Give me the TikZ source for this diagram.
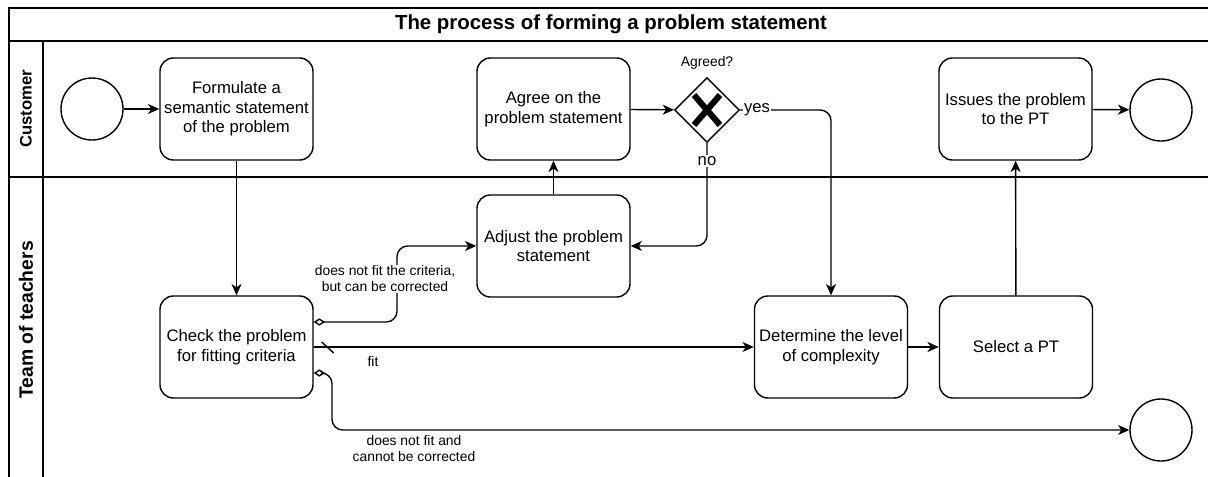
\documentclass[tikz,border=0pt]{standalone}
\usepackage{fontspec}
\setmainfont{Liberation Sans}
\usetikzlibrary{arrows.meta,shapes.geometric}

\begin{document}
\begin{tikzpicture}[x=0.75pt,y=-0.75pt,
  line width=1.05pt,
  task/.style={draw, rounded corners=10pt, minimum width=114.75pt,
    minimum height=76.5pt, inner sep=0pt, align=center,
    font=\fontsize{12.5}{14.6}\selectfont},
  event/.style={draw, circle, minimum size=46.5pt, inner sep=0pt},
  gateway/.style={draw, diamond, minimum width=48.75pt, minimum height=48.75pt, inner sep=0pt},
  flow/.style={-{Stealth[length=8.5pt,width=7.5pt,inset=2.5pt]}, rounded corners=8pt},
  cond/.style={{Diamond[open,length=8.5pt,width=5.5pt]}-{Stealth[length=8.5pt,width=7.5pt,inset=2.5pt]}, rounded corners=8pt},
  edgelabel/.style={fill=white, inner sep=1pt, align=center,
    font=\fontsize{10.4}{12}\selectfont},
  lanelabel/.style={rotate=90, font=\bfseries\fontsize{12.5}{14}\selectfont},
]
\clip (0,0) rectangle (1208,476);

% pool frame, title band and lanes
\draw (9,8) rectangle (1230,500);
\draw[line width=2.2pt] (9,41) -- (1230,41);
\draw (9,177) -- (1230,177);
\draw (43,41) -- (43,500);
\node[font=\bfseries\fontsize{15.3}{18}\selectfont] (title) at (611,24.5) {The process of forming a problem statement};
\node[lanelabel] (customer) at (26,109) {Customer};
\node[lanelabel, font=\bfseries\fontsize{14.5}{16}\selectfont] (team) at (26,320) {Team of teachers};

% customer lane
\node[event] (start) at (92,109) {};
\node[task] (formulate) at (236.5,109) {Formulate a\\semantic statement\\of the problem};
\node[task] (agree) at (553.5,109) {Agree on the\\problem statement};
\node[gateway] (gw) at (707,110) {};
\draw[line width=4.6pt] ([shift={(-13,-15)}]gw.center) -- ([shift={(13,15)}]gw.center)
  ([shift={(13,-15)}]gw.center) -- ([shift={(-13,15)}]gw.center);
\node[font=\fontsize{10.4}{12}\selectfont] (agreed) at (707,63) {Agreed?};
\node[task] (issues) at (1015.5,109) {Issues the problem\\to the PT};
\node[event] (end1) at (1161,110) {};

% team lane
\node[task] (adjust) at (553.5,246) {Adjust the problem\\statement};
\node[task] (check) at (236.5,347) {Check the problem\\for fitting criteria};
\node[task] (determine) at (831,347) {Determine the level\\of complexity};
\node[task] (select) at (1016,347) {Select a PT};
\node[event] (end2) at (1161,430) {};

% sequence flows
\draw[flow] (start) -- (formulate);
\draw[flow] (formulate) -- (check);
\draw[flow] (agree) -- (gw);
\draw[flow] (adjust) -- (agree);
\draw[flow] (gw.south) |- (adjust.east);
\draw[flow] (gw.east) -| (determine.north);
\draw[flow, line width=2.2pt] (determine) -- (select);
\draw[flow] (select) -- (issues);
\draw[flow] (issues) -- (end1);

\draw[cond] ([yshift=18.75pt]check.east) -| (397,246) -- (adjust.west);
\draw[flow] (check.east) -- (determine.west);
\draw ([shift={(8,-5)}]check.east) -- ([shift={(20,6)}]check.east);
\draw[cond] ([yshift=-19.5pt]check.east) -| (332,430) -- (end2.west);

% flow labels
\node[edgelabel, font=\fontsize{12.5}{14}\selectfont] (yes) at (757,110) {yes};
\node[edgelabel, font=\fontsize{12.5}{14}\selectfont] (no) at (707,161) {no};
\node[edgelabel] (corr) at (385,279) {does not fit the criteria,\\but can be corrected};
\node[edgelabel] (fit) at (373,362) {fit};
\node[edgelabel] (nofit) at (414,449) {does not fit and\\cannot be corrected};
\end{tikzpicture}
\end{document}
